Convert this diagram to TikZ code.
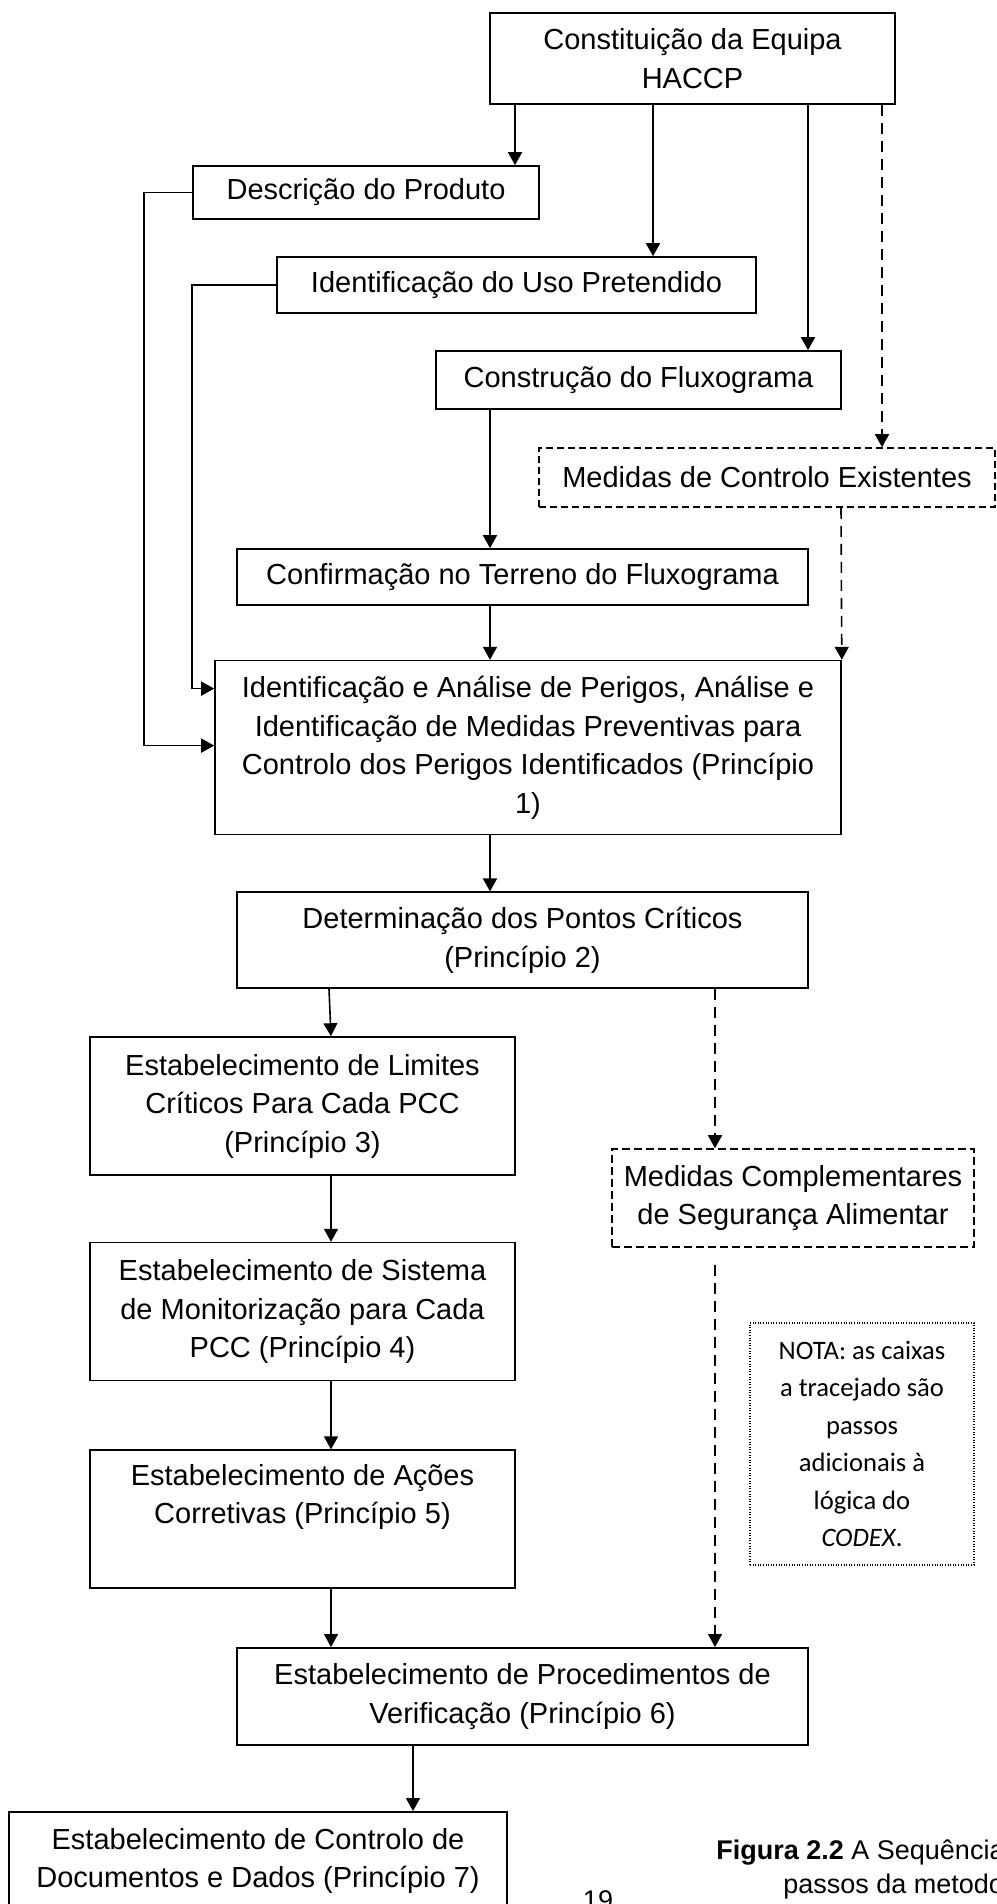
\documentclass[tikz,border=0pt]{standalone}
\usepackage{fontspec}
\setmainfont{Liberation Sans}
\newfontfamily\notafont{Carlito}
\usetikzlibrary{positioning, arrows.meta}

\tikzset{
  caixa/.style={rectangle, draw, line width=0.8pt, inner sep=2pt, align=center, font=\fontsize{14.5pt}{19.25pt}\selectfont},
  caixatrac/.style={caixa, dash pattern=on 3.5pt off 2pt},
  caixanota/.style={rectangle, draw, line width=0.6pt, dash pattern=on 0.5pt off 0.8pt, inner sep=2pt, align=center, font=\notafont\fontsize{13.3pt}{18.75pt}\selectfont},
  seta/.style={line width=0.8pt, -{Triangle[length=6.5pt, width=7pt]}},
  setatrac/.style={seta, dash pattern=on 5.5pt off 3.5pt},
}

\begin{document}
\begin{tikzpicture}[x=0.5pt, y=-0.5pt]
        \clip (0, 0) rectangle (996, 1904);

        \node[caixa, minimum width = 202.5pt, minimum height = 45.5pt] (equipa) at (692.5, 58.5) {Constituição da Equipa\\HACCP};
        \node[caixa, minimum width = 173pt, minimum height = 26.5pt] (descricao) at (366, 192.5) {Descrição do Produto};
        \node[caixa, minimum width = 239.5pt, minimum height = 28pt] (uso) at (516.5, 285) {Identificação do Uso Pretendido};
        \node[caixa, minimum width = 202.5pt, minimum height = 29pt] (construcao) at (638.5, 380) {Construção do Fluxograma};
        \node[caixatrac, minimum width = 228pt, minimum height = 29.5pt] (medidas) at (767, 477.5) {Medidas de Controlo Existentes};
        \node[caixa, minimum width = 285.5pt, minimum height = 28pt] (confirmacao) at (522.5, 577) {Confirmação no Terreno do Fluxograma};
        \node[caixa, minimum width = 313pt, minimum height = 87pt] (perigos) [below = 27pt of confirmacao, xshift = 2.75pt] {Identificação e Análise de Perigos, Análise e\\Identificação de Medidas Preventivas para\\Controlo dos Perigos Identificados (Princípio\\1)};
        \node[caixa, minimum width = 285.5pt, minimum height = 48pt] (pcc) [below = 28pt of perigos, xshift = -2.75pt] {Determinação dos Pontos Críticos\\(Princípio 2)};
        \node[caixa, minimum width = 212.5pt, minimum height = 69pt] (limites) at (302.5, 1106) {Estabelecimento de Limites\\Críticos Para Cada PCC\\(Princípio 3)};
        \node[caixa, minimum width = 212.5pt, minimum height = 69pt] (monitorizacao) [below = 33pt of limites] {Estabelecimento de Sistema\\de Monitorização para Cada\\PCC (Princípio 4)};
        \node[caixa, minimum width = 212.5pt, minimum height = 69pt] (acoes) [below = 34pt of monitorizacao] {Estabelecimento de Ações\\Corretivas (Princípio 5)\\\strut};
        \node[caixa, minimum width = 285.5pt, minimum height = 48.5pt] (verificacao) [below = 29pt of acoes, xshift = 110pt] {Estabelecimento de Procedimentos de\\Verificação (Princípio 6)};
        \node[caixa, minimum width = 249pt, minimum height = 49pt, anchor = north] (documentos) at (258, 1811) {Estabelecimento de Controlo de\\Documentos e Dados (Princípio 7)};
        \node[caixatrac, minimum width = 181pt, minimum height = 49pt, dash pattern = on 4pt off 2pt] (complementares) at (793, 1198) {Medidas Complementares\\de Segurança Alimentar};
        \node[caixanota, minimum width = 112pt, minimum height = 121pt] (nota) at (862, 1444) {NOTA: as caixas\\a tracejado são\\passos\\adicionais à\\lógica do\\\textit{CODEX}.};

        \node[anchor = base west, inner sep = 0pt, font = \fontsize{13.5pt}{18pt}\selectfont] (legenda) at (716, 1859) {\textbf{Figura 2.2} A Sequência};
        \node[anchor = base west, inner sep = 0pt, font = \fontsize{13.5pt}{18pt}\selectfont] (legendab) at (783, 1893) {passos da metodologia};
        \node[anchor = north, inner sep = 0pt, font = \fontsize{13.5pt}{18pt}\selectfont] (pagina) at (598, 1890) {19};

        \draw[seta] ([xshift = -88.75pt]equipa.south) -- ([xshift = 74.5pt]descricao.north);
        \draw[seta] ([xshift = -19.75pt]equipa.south) -- ([xshift = 68.25pt]uso.north);
        \draw[seta] ([xshift = 57.75pt]equipa.south) -- ([xshift = 84.75pt]construcao.north);
        \draw[setatrac] ([xshift = 94.75pt]equipa.south) -- ([xshift = 57.5pt]medidas.north);
        \draw[seta] (descricao.west) -- ++(-24pt, 0) |- ([yshift = 1pt]perigos.west);
        \draw[seta] (uso.west) -- ++(-42pt, 0) |- ([yshift = 29.5pt]perigos.west);
        \draw[seta] ([xshift = -74.25pt]construcao.south) -- ([xshift = -16.25pt]confirmacao.north);
        \draw[seta] ([xshift = -16.25pt]confirmacao.south) -- ([xshift = -19pt]perigos.north);
        \draw[setatrac] ([xshift = 37pt]medidas.south) -- (perigos.north east);
        \draw[seta] ([xshift = -19pt]perigos.south) -- ([xshift = -16.25pt]pcc.north);
        \draw[seta] ([xshift = -96.75pt]pcc.south) -- ([xshift = 14.25pt]limites.north);
        \draw[setatrac] ([xshift = 96.25pt]pcc.south) -- ([xshift = -39pt]complementares.north);
        \draw[seta] ([xshift = 14.25pt]limites.south) -- ([xshift = 14.25pt]monitorizacao.north);
        \draw[seta] ([xshift = 14.25pt]monitorizacao.south) -- ([xshift = 14.25pt]acoes.north);
        \draw[seta] ([xshift = 14.25pt]acoes.south) -- ([xshift = -95.75pt]verificacao.north);
        \draw[setatrac] ([xshift = -39pt, yshift = -8.5pt]complementares.south) -- ([xshift = 96.25pt]verificacao.north);
        \draw[seta] ([xshift = -54.75pt]verificacao.south) -- ([xshift = 77.5pt]documentos.north);
      \end{tikzpicture}
\end{document}
